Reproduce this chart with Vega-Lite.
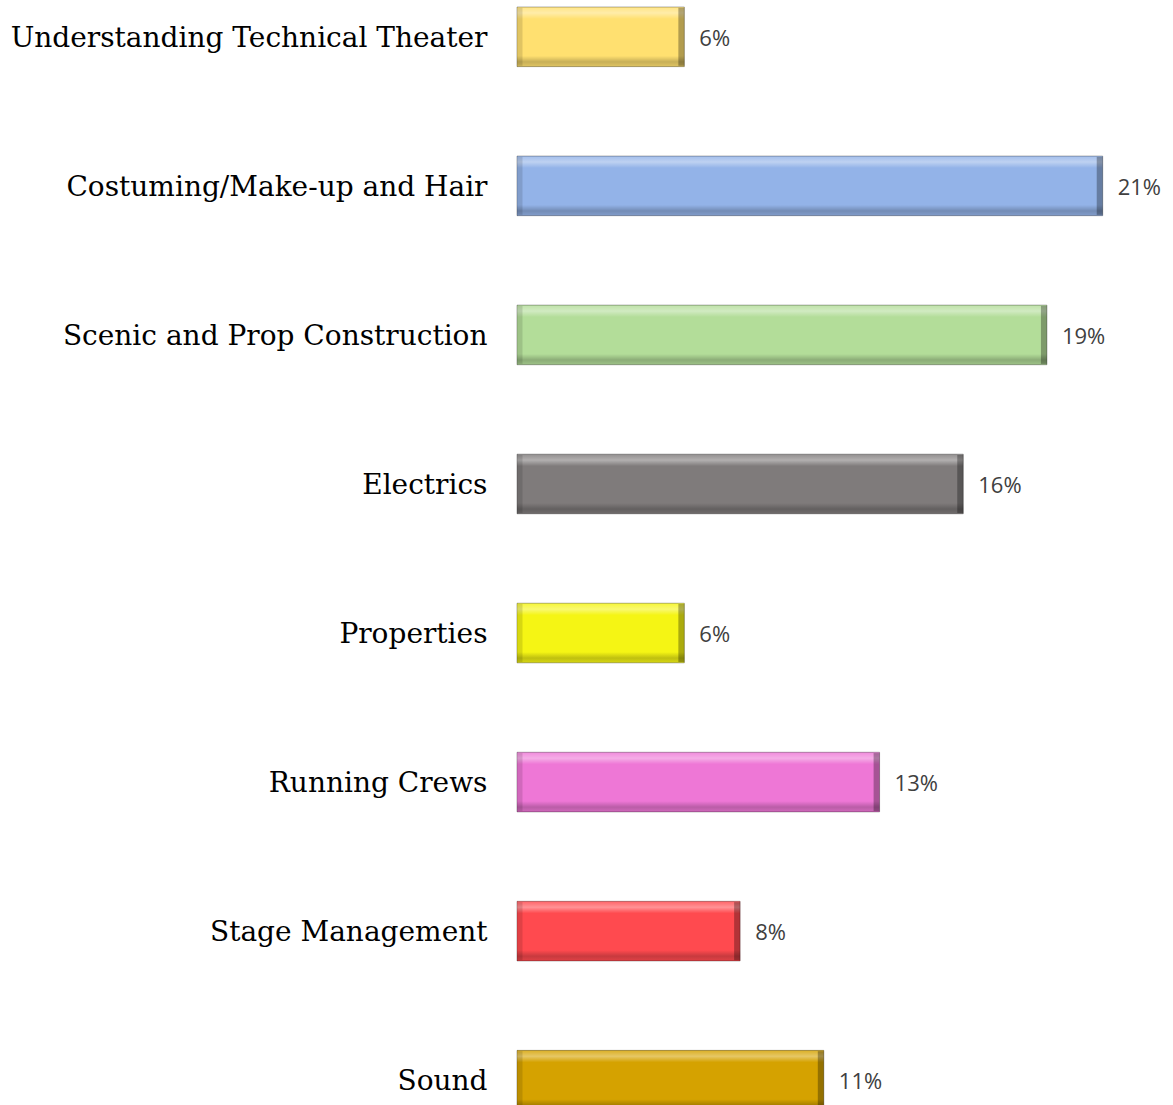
{
  "$schema": "https://vega.github.io/schema/vega-lite/v6.json",
  "autosize": {"type": "none"},
  "padding": {"left": 517, "top": 0, "right": 0, "bottom": 0},
  "width": 656,
  "height": 1117,
  "background": "white",
  "config": {"view": {"stroke": null}},
  "data": {
    "values": [
      {"skill": "Understanding Technical Theater", "share": 0.06, "label": "6%"},
      {"skill": "Costuming/Make-up and Hair", "share": 0.21, "label": "21%"},
      {"skill": "Scenic and Prop Construction", "share": 0.19, "label": "19%"},
      {"skill": "Electrics", "share": 0.16, "label": "16%"},
      {"skill": "Properties", "share": 0.06, "label": "6%"},
      {"skill": "Running Crews", "share": 0.13, "label": "13%"},
      {"skill": "Stage Management", "share": 0.08, "label": "8%"},
      {"skill": "Sound", "share": 0.11, "label": "11%"}
    ]
  },
  "encoding": {
    "y": {
      "field": "skill", "type": "nominal", "sort": null,
      "scale": {"paddingInner": 0.6, "paddingOuter": 0.047},
      "axis": {
        "title": null, "domain": false, "ticks": false, "labelPadding": 30,
        "labelFont": "DejaVu Serif", "labelFontSize": 28, "labelColor": "#000000",
        "labelLimit": 600, "labelOffset": 2
      }
    },
    "x": {
      "field": "share", "type": "quantitative",
      "scale": {"domain": [0, 0.2352], "nice": false},
      "axis": null
    }
  },
  "layer": [
    {
      "mark": {"type": "bar", "cornerRadius": 0},
      "encoding": {
        "color": {
          "field": "skill", "type": "nominal", "legend": null,
          "scale": {
            "domain": ["Understanding Technical Theater", "Costuming/Make-up and Hair", "Scenic and Prop Construction", "Electrics", "Properties", "Running Crews", "Stage Management", "Sound"],
            "range": ["#FFE070", "#93B3E8", "#B3DD99", "#7F7B7B", "#F5F514", "#EE77D6", "#FF4A4F", "#D5A200"]
          }
        }
      }
    },
    {
      "mark": {
        "type": "bar",
        "stroke": "rgba(0,0,0,0.3)",
        "strokeWidth": 1,
        "fill": {
          "gradient": "linear", "x1": 0, "y1": 0, "x2": 0, "y2": 1,
          "stops": [
            {"offset": 0, "color": "rgba(255,255,255,0.15)"},
            {"offset": 0.1, "color": "rgba(255,255,255,0.4)"},
            {"offset": 0.2, "color": "rgba(255,255,255,0.0)"},
            {"offset": 0.82, "color": "rgba(0,0,0,0.0)"},
            {"offset": 0.92, "color": "rgba(0,0,0,0.22)"},
            {"offset": 1, "color": "rgba(0,0,0,0.12)"}
          ]
        }
      }
    },
    {
      "mark": {"type": "tick", "orient": "vertical", "color": "#000000", "opacity": 0.3, "thickness": 6, "size": 58, "xOffset": -3},
      "encoding": {}
    },
    {
      "mark": {"type": "tick", "orient": "vertical", "color": "#000000", "opacity": 0.12, "thickness": 5, "size": 58, "xOffset": 3},
      "encoding": {"x": {"datum": 0, "type": "quantitative"}}
    },
    {
      "mark": {
        "type": "text", "align": "left", "baseline": "middle", "dx": 15, "dy": 2,
        "font": "Open Sans", "fontSize": 22, "color": "#404040"
      },
      "encoding": {"text": {"field": "label"}}
    }
  ]
}
